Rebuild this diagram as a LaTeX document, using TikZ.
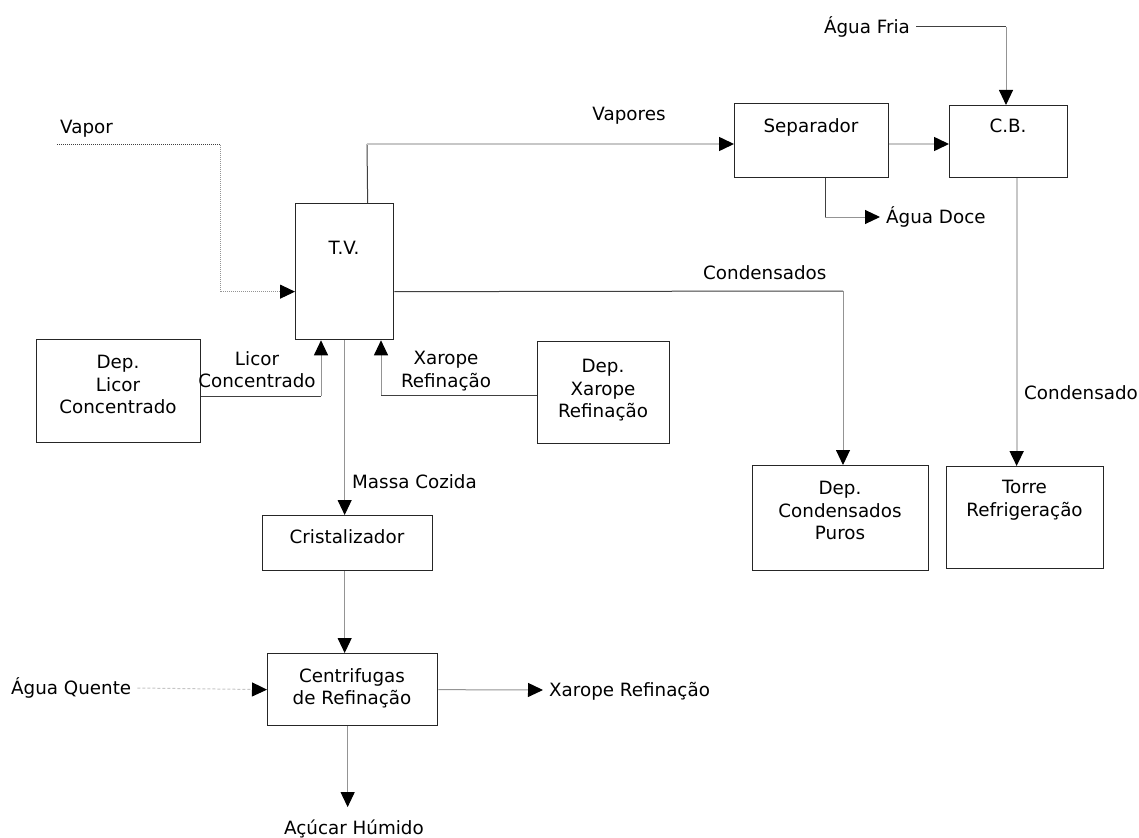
\documentclass[tikz,border=0pt]{standalone}
\usepackage{fontspec}
\setmainfont{DejaVu Sans}
\usetikzlibrary{arrows.meta}
\begin{document}
\begin{tikzpicture}[x=1pt,y=-1pt,
  box/.style={draw=black!85, line width=1.3pt, inner sep=0, anchor=north west},
  lbl/.style={inner sep=0, font=\fontsize{18.3}{22.5}\selectfont, text height=13.4pt, text depth=0pt},
  txt/.style={inner sep=0, font=\fontsize{18.3}{22.5}\selectfont, align=center, anchor=north},
  flow/.style={line width=1pt},
  tip/.style={-{Triangle[length=15pt,width=14pt,color=black]}},
  dark/.style={flow, draw=black!75},
  mid/.style={flow, draw=black!42},
  light/.style={flow, draw=black!22},
]
\fill[white] (0,0) rectangle (1139,837);
\useasboundingbox (0,0) rectangle (1139,837);

% ---- process units ----
\node[box, minimum width=98pt,  minimum height=136pt] (tv)     at (295,203) {};
\node[box, minimum width=154pt, minimum height=74pt]  (sep)    at (734,103) {};
\node[box, minimum width=118pt, minimum height=72pt]  (cb)     at (949,105) {};
\node[box, minimum width=164pt, minimum height=103pt] (licor)  at (36,339)  {};
\node[box, minimum width=132pt, minimum height=102pt] (xar)    at (537,341) {};
\node[box, minimum width=170pt, minimum height=55pt]  (crist)  at (262,515) {};
\node[box, minimum width=170pt, minimum height=72pt]  (centr)  at (267,653) {};
\node[box, minimum width=176pt, minimum height=105pt] (depc)   at (752,465) {};
\node[box, minimum width=157pt, minimum height=102pt] (torre)  at (946,466) {};

% ---- unit names ----
\node[lbl] (tvt)    at (344,248)  {T.V.};
\node[lbl] (sept)   at (811,126)  {Separador};
\node[lbl] (cbt)    at (1008,126) {C.B.};
\node[txt] (licort) at (118,355)  {Dep.\\Licor\\Concentrado};
\node[txt] (xart)   at (603,359)  {Dep.\\Xarope\\Refinação};
\node[lbl] (cristt) at (347,537)  {Cristalizador};
\node[txt] (centrt) at (352,668)  {Centrifugas\\de Refinação};
\node[txt] (depct)  at (840,481)  {Dep.\\Condensados\\Puros};
\node[txt] (torret) at (1024.5,480) {Torre\\Refrigeração};

% ---- stream names ----
\node[lbl, anchor=west]  (vapor)   at (60,127)  {Vapor};
\node[lbl]               (vapores) at (629,114) {Vapores};
\node[lbl, anchor=west]  (conds)   at (703,273) {Condensados};
\node[lbl, anchor=east]  (fria)    at (910,27)  {Água Fria};
\node[lbl, anchor=west]  (doce)    at (886,217) {Água Doce};
\node[lbl, anchor=west]  (cond)    at (1024,393) {Condensado};
\node[txt]               (licl)    at (257,351) {Licor\\Concentrado};
\node[txt]               (xarl)    at (446,351) {Xarope\\Refinação};
\node[lbl, anchor=west]  (massa)   at (352,482) {Massa Cozida};
\node[lbl, anchor=west]  (quente)  at (11,688)  {Água Quente};
\node[lbl, anchor=west]  (xarout)  at (549,690) {Xarope Refinação};
\node[lbl]               (acucar)  at (354,828) {Açúcar Húmido};

% ---- bend points ----
\coordinate (vap0)  at (57,145);
\coordinate (vap1)  at (220,145);
\coordinate (vbend) at (367,144);
\coordinate (cbend) at (843,291);
\coordinate (fbend) at (1006,27);
\coordinate (dbend) at (825,217);
\coordinate (lbend) at (321,396);
\coordinate (xbend) at (381,395);

% ---- streams ----
% steam feed
\draw[dark, densely dotted] (vap0) -- (vap1);
\draw[mid, densely dotted, tip] (vap1) |- ([yshift=-20pt]tv.west);
% vapours to separator
\draw[dark] ([xshift=23pt]tv.north) -- (vbend);
\draw[light, line width=1.5pt, tip] (vbend) -- (vbend -| sep.west);
% separator to barometric condenser
\draw[light, line width=1.5pt, tip] (vbend -| sep.east) -- (vbend -| cb.west);
% cold water
\draw[dark] ([xshift=6pt]fria.east |- fbend) -- (fbend);
\draw[mid, tip] (fbend) -- (fbend |- cb.north);
% sweet water
\draw[dark] (dbend |- sep.south) -- (dbend);
\draw[mid, tip] (dbend) -- ([xshift=-6pt]doce.west);
% condensate to cooling tower
\draw[light, line width=1.8pt, tip] ([xshift=8pt]cb.south) -- ([xshift=8pt]cb.south |- torre.north);
% pure condensates
\draw[dark] ([yshift=-20pt]tv.east) -- (cbend);
\draw[mid, tip] (cbend) -- (cbend |- depc.north);
% concentrated liquor
\draw[dark] (licor.east |- lbend) -- (lbend);
\draw[mid, tip] (lbend) -- (lbend |- tv.south);
% refining syrup
\draw[dark] (xar.west |- xbend) -- (xbend);
\draw[mid, tip] (xbend) -- (xbend |- tv.south);
% massecuite
\draw[mid, tip] (tv.south) -- (tv.south |- crist.north);
\draw[mid, tip] (tv.south |- crist.south) -- (tv.south |- centr.north);
% hot water
\draw[light, densely dashed, tip] ([xshift=6pt]quente.east) -- (centr.west);
% centrifuge outlets
\draw[mid, tip] (centr.east) -- ([xshift=-6pt]xarout.west);
\draw[mid, tip, shorten >=14pt] ([xshift=-5pt]centr.south) -- ([xshift=-5pt]centr.south |- acucar.north);
\end{tikzpicture}
\end{document}
